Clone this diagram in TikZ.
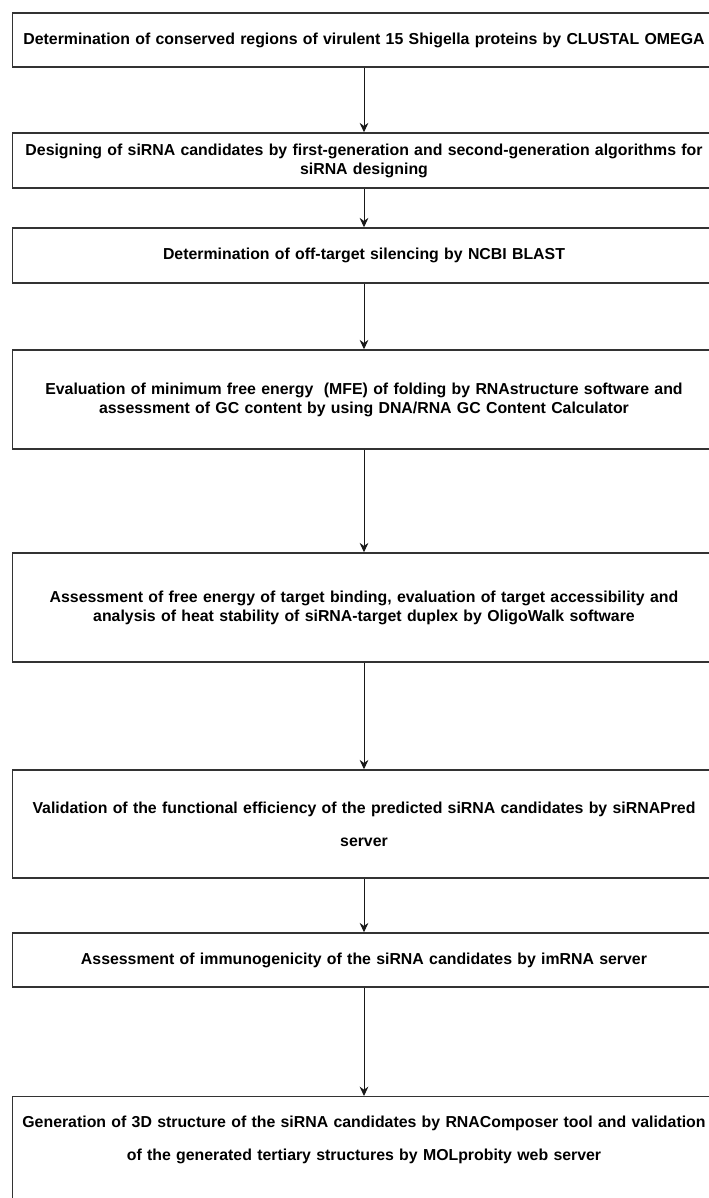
\documentclass[tikz,border=0pt]{standalone}
\usepackage{fontspec}
\setmainfont{Liberation Sans}
\usepackage{tikz}
\usetikzlibrary{arrows.meta,positioning}

\tikzset{
  stepbox/.style={draw=black!80,line width=1.1pt,minimum width=527pt,text width=526pt,
    align=center,inner sep=0pt,font=\bfseries\fontsize{11.9}{14.2}\selectfont},
  flow/.style={-{Stealth[length=7pt,width=6.5pt]},line width=0.75pt,black!90}
}

\begin{document}
\begin{tikzpicture}[x=0.75pt,y=-0.75pt]
        \useasboundingbox (0,0) rectangle (709,1198);
        \clip (0,0) rectangle (709,1198);
        \node[stepbox,minimum height=40.5pt] (conserved) at (364,40)
          {Determination of conserved regions of virulent 15 Shigella proteins by CLUSTAL OMEGA};
        \node[stepbox,minimum height=41.25pt] (design) at (364,160.5)
          {Designing of siRNA candidates by first-generation and second-generation algorithms for\\
           siRNA designing};
        \node[stepbox,minimum height=41.25pt] (offtarget) at (364,255.5)
          {Determination of off-target silencing by NCBI BLAST};
        \node[stepbox,minimum height=74.25pt] (mfe) at (364,399.5)
          {Evaluation of minimum free energy~~(MFE) of folding by RNAstructure software and\\
           assessment of GC content by using DNA/RNA GC Content Calculator};
        \node[stepbox,minimum height=81.75pt] (oligowalk) at (364,607.5)
          {Assessment of free energy of target binding, evaluation of target accessibility and\\
           analysis of heat stability of siRNA-target duplex by OligoWalk software};
        \node[stepbox,minimum height=81pt] (sirnapred) at (364,824)
          {Validation of the functional efficiency of the predicted siRNA candidates by siRNAPred\\[10.5pt]
           server};
        \node[stepbox,minimum height=40.5pt] (immuno) at (364,960)
          {Assessment of immunogenicity of the siRNA candidates by imRNA server};
        \node[stepbox,minimum height=91.5pt,anchor=north] (structure) at (364,1096)
          {Generation of 3D structure of the siRNA candidates by RNAComposer tool and validation\\[10.5pt]
           of the generated tertiary structures by MOLprobity web server\\[10.5pt]
           \strut};
        \foreach \a/\b in {conserved/design,design/offtarget,offtarget/mfe,mfe/oligowalk,
            oligowalk/sirnapred,sirnapred/immuno,immuno/structure} {
          \draw[flow] (\a) -- (\b);
        }
      \end{tikzpicture}
\end{document}
